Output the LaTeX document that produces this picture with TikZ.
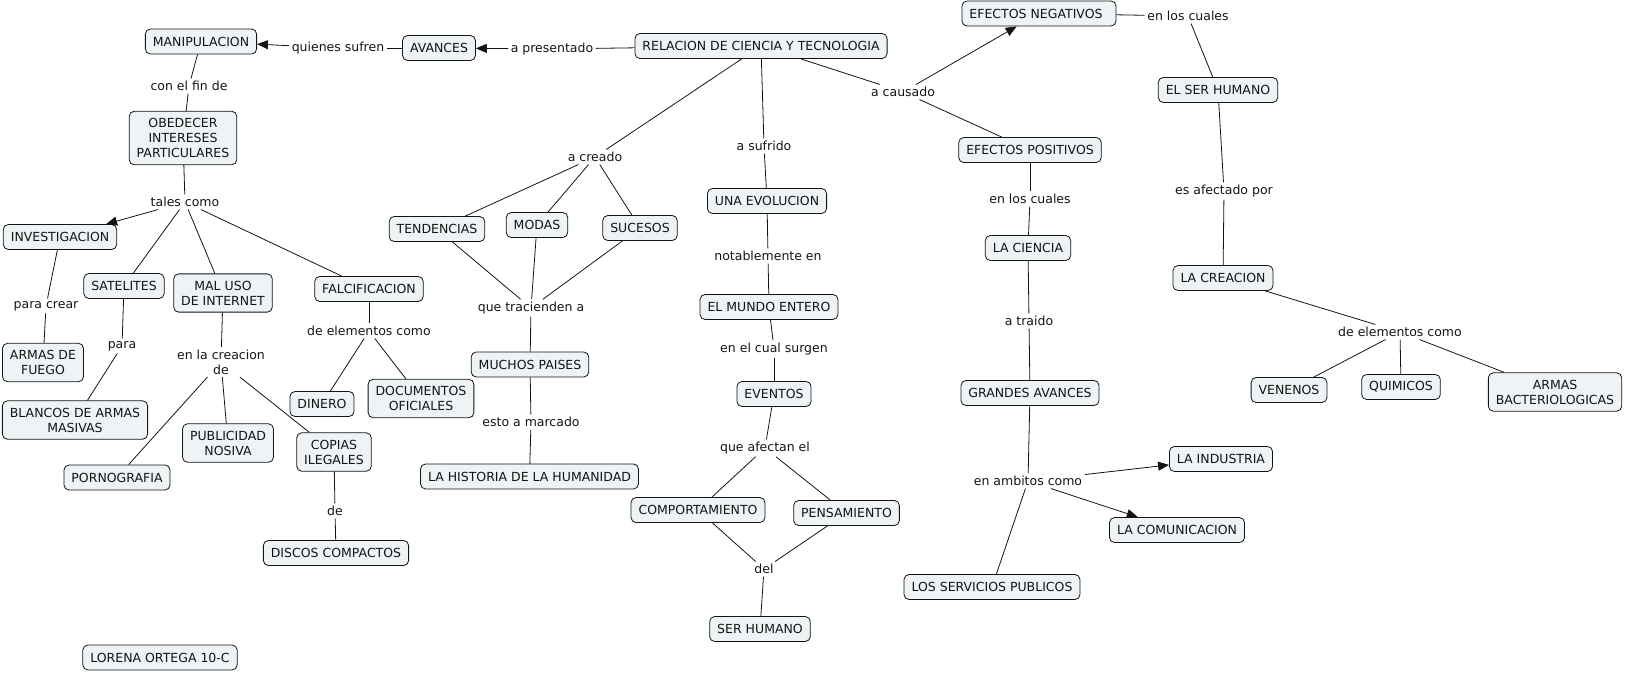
\documentclass[tikz,border=0pt]{standalone}
\usepackage{fontspec}
\setmainfont{DejaVu Sans}
\usetikzlibrary{arrows.meta}
\definecolor{boxfill}{RGB}{238,243,246}
\definecolor{ink}{RGB}{20,20,20}
\begin{document}
\begin{tikzpicture}[x=1pt,y=-1pt,font=\fontsize{12.5}{15}\selectfont,
  concept/.style={draw=ink, fill=boxfill, rounded corners=5pt, align=center, inner xsep=7.5pt, inner ysep=7pt, minimum height=25pt, line width=0.8pt, text=ink},
  lbl/.style={inner sep=2.5pt, align=center, text=ink},
  link/.style={line width=0.8pt, draw=ink},
  arr/.style={link, -{Triangle[length=11pt,width=9pt]}}]
\useasboundingbox (0,0) rectangle (1625,672);
% concepts
\node[concept] (rel) at (761,46) {RELACION DE CIENCIA Y TECNOLOGIA};
\node[concept] (avances) at (439,48) {AVANCES};
\node[concept] (manip) at (201,41.5) {MANIPULACION};
\node[concept] (obed) at (183,138) {OBEDECER\\INTERESES\\PARTICULARES};
\node[concept] (invest) at (60,237) {INVESTIGACION};
\node[concept] (sat) at (124,286) {SATELITES};
\node[concept] (maluso) at (223,293) {MAL USO\\DE INTERNET};
\node[concept] (falc) at (369,289) {FALCIFICACION};
\node[concept] (fuego) at (43,362.5) {ARMAS DE\\FUEGO};
\node[concept] (blancos) at (75,420) {BLANCOS DE ARMAS\\MASIVAS};
\node[concept] (porno) at (117,477.5) {PORNOGRAFIA};
\node[concept] (publi) at (228,443) {PUBLICIDAD\\NOSIVA};
\node[concept] (copias) at (334,452) {COPIAS\\ILEGALES};
\node[concept] (discos) at (336,553) {DISCOS COMPACTOS};
\node[concept] (dinero) at (322,404) {DINERO};
\node[concept] (docs) at (421,398.5) {DOCUMENTOS\\OFICIALES};
\node[concept] (tend) at (437,229) {TENDENCIAS};
\node[concept] (modas) at (537,225) {MODAS};
\node[concept] (sucesos) at (640,228) {SUCESOS};
\node[concept] (muchos) at (530,364.5) {MUCHOS PAISES};
\node[concept] (historia) at (529.5,476.5) {LA HISTORIA DE LA HUMANIDAD};
\node[concept] (evol) at (767,201) {UNA EVOLUCION};
\node[concept] (mundo) at (769,307) {EL MUNDO ENTERO};
\node[concept] (eventos) at (774,394) {EVENTOS};
\node[concept] (comport) at (698,510) {COMPORTAMIENTO};
\node[concept] (pensam) at (846.5,513) {PENSAMIENTO};
\node[concept] (serhum) at (760,629) {SER HUMANO};
\node[concept] (efneg) at (1039,13.5) {EFECTOS NEGATIVOS\hspace{6pt}};
\node[concept] (efpos) at (1030,150) {EFECTOS POSITIVOS};
\node[concept] (ciencia) at (1028,248) {LA CIENCIA};
\node[concept] (grandes) at (1030,393) {GRANDES AVANCES};
\node[concept] (industria) at (1221,459) {LA INDUSTRIA};
\node[concept] (comunic) at (1177,530) {LA COMUNICACION};
\node[concept] (servicios) at (992,587) {LOS SERVICIOS PUBLICOS};
\node[concept] (elser) at (1218,90) {EL SER HUMANO};
\node[concept] (creacion) at (1223,278) {LA CREACION};
\node[concept] (venenos) at (1289,390) {VENENOS};
\node[concept] (quimicos) at (1401,387) {QUIMICOS};
\node[concept] (bacter) at (1555,392) {ARMAS\\BACTERIOLOGICAS};
\node[concept] (lorena) at (160,657.5) {LORENA ORTEGA 10-C};
% linking phrases
\node[lbl] (apres) at (552,49) {a presentado};
\node[lbl] (quienes) at (338,48) {quienes sufren};
\node[lbl] (confin) at (189,86) {con el fin de};
\node[lbl] (tales) at (185,202) {tales como};
\node[lbl] (paracrear) at (46,306) {para crear};
\node[lbl] (para) at (122,346) {para};
\node[lbl] (enlacre) at (221,362) {en la creacion\\de};
\node[lbl] (deelem1) at (369,331) {de elementos como};
\node[lbl] (de) at (335,511) {de};
\node[lbl] (acreado) at (595,157) {a creado};
\node[lbl] (quetrac) at (531,308) {que tracienden a};
\node[lbl] (estoa) at (531,422) {esto a marcado};
\node[lbl] (asufrido) at (764,146) {a sufrido};
\node[lbl] (notab) at (768,256) {notablemente en};
\node[lbl] (enelcual) at (774,349) {en el cual surgen};
\node[lbl] (queafec) at (765,448) {que afectan el};
\node[lbl] (del) at (764,569) {del};
\node[lbl] (acausado) at (903,92) {a causado};
\node[lbl] (enlos1) at (1188,16) {en los cuales};
\node[lbl] (esafec) at (1224,191) {es afectado por};
\node[lbl] (deelem2) at (1400,332) {de elementos como};
\node[lbl] (enlos2) at (1030,199) {en los cuales};
\node[lbl] (atraido) at (1029,321) {a traido};
\node[lbl] (enamb) at (1028,481) {en ambitos como};
% connectors
\draw[link] (rel) -- (apres);
\draw[arr] (apres) -- (avances);
\draw[link] (avances) -- (quienes);
\draw[arr] (quienes) -- (manip);
\draw[link] (manip) -- (confin);
\draw[link] (confin) -- (obed);
\draw[link] (obed) -- (tales);
\draw[arr] (tales) -- (invest);
\draw[link] (tales) -- (sat);
\draw[link] (tales) -- (maluso);
\draw[link] (tales) -- (falc);
\draw[link] (invest) -- (paracrear);
\draw[link] (paracrear) -- (fuego);
\draw[link] (sat) -- (para);
\draw[link] (para) -- (blancos);
\draw[link] (maluso) -- (enlacre);
\draw[link] (enlacre) -- (porno);
\draw[link] (enlacre) -- (publi);
\draw[link] (enlacre) -- (copias);
\draw[link] (copias) -- (de);
\draw[link] (de) -- (discos);
\draw[link] (falc) -- (deelem1);
\draw[link] (deelem1) -- (dinero);
\draw[link] (deelem1) -- (docs);
\draw[link] (rel) -- (acreado);
\draw[link] (acreado) -- (tend);
\draw[link] (acreado) -- (modas);
\draw[link] (acreado) -- (sucesos);
\draw[link] (tend) -- (quetrac);
\draw[link] (modas) -- (quetrac);
\draw[link] (sucesos) -- (quetrac);
\draw[link] (quetrac) -- (muchos);
\draw[link] (muchos) -- (estoa);
\draw[link] (estoa) -- (historia);
\draw[link] (rel) -- (asufrido);
\draw[link] (asufrido) -- (evol);
\draw[link] (evol) -- (notab);
\draw[link] (notab) -- (mundo);
\draw[link] (mundo) -- (enelcual);
\draw[link] (enelcual) -- (eventos);
\draw[link] (eventos) -- (queafec);
\draw[link] (queafec) -- (comport);
\draw[link] (queafec) -- (pensam);
\draw[link] (comport) -- (del);
\draw[link] (pensam) -- (del);
\draw[link] (del) -- (serhum);
\draw[link] (rel) -- (acausado);
\draw[arr] (acausado) -- (efneg);
\draw[link] (acausado) -- (efpos);
\draw[link] (efneg) -- (enlos1);
\draw[link] (enlos1) -- (elser);
\draw[link] (elser) -- (esafec);
\draw[link] (esafec) -- (creacion);
\draw[link] (creacion) -- (deelem2);
\draw[link] (deelem2) -- (venenos);
\draw[link] (deelem2) -- (quimicos);
\draw[link] (deelem2) -- (bacter);
\draw[link] (efpos) -- (enlos2);
\draw[link] (enlos2) -- (ciencia);
\draw[link] (ciencia) -- (atraido);
\draw[link] (atraido) -- (grandes);
\draw[link] (grandes) -- (enamb);
\draw[arr] (enamb) -- (industria);
\draw[arr] (enamb) -- (comunic);
\draw[link] (enamb) -- (servicios);
\end{tikzpicture}
\end{document}
